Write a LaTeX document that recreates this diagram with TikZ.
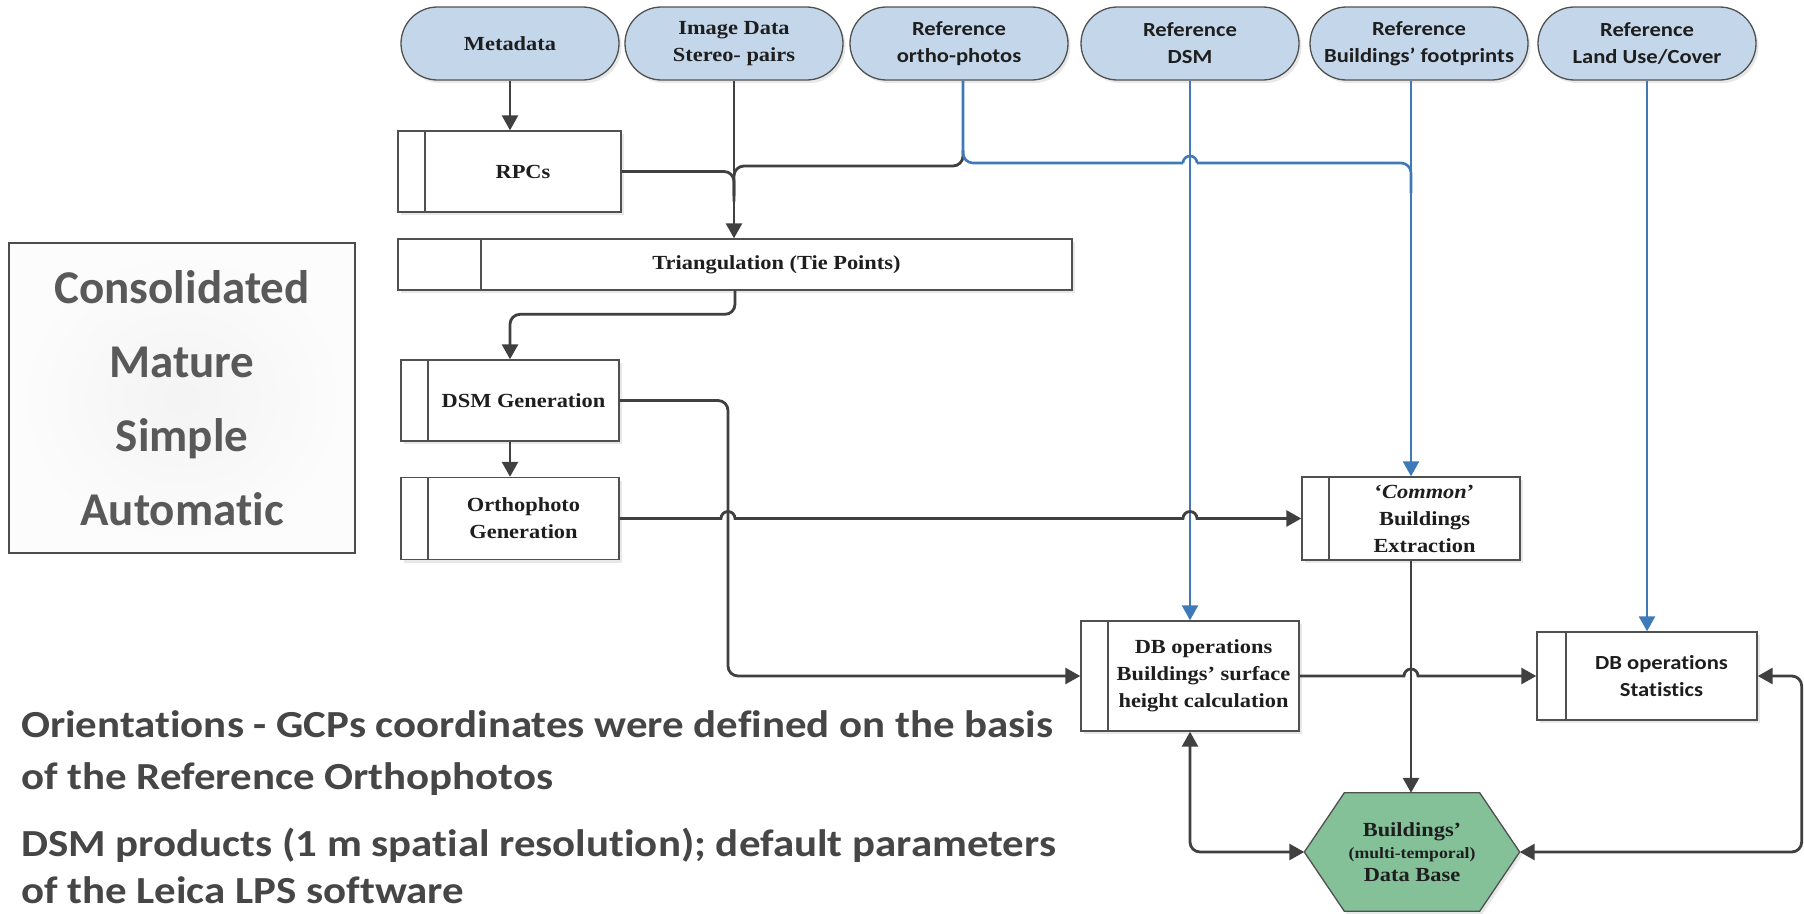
\documentclass[tikz,border=0pt]{standalone}
\usepackage{fontspec}
\usetikzlibrary{arrows.meta,shapes.misc,shadows,backgrounds,calc}
\newfontfamily\tmsb[FakeStretch=1.12]{Liberation Serif}
\newfontfamily\cbri[FakeStretch=1.13,Ligatures=NoCommon]{Carlito}
\newfontfamily\cbrw[FakeStretch=1.12,Ligatures=NoCommon]{Carlito}
\newfontfamily\cbrn[Ligatures=NoCommon]{Carlito}
\definecolor{pillfill}{RGB}{196,215,234}
\definecolor{hexfill}{RGB}{132,192,152}
\definecolor{bluln}{RGB}{62,122,184}
\definecolor{dkln}{RGB}{64,64,64}
\definecolor{boxln}{RGB}{80,80,80}
\definecolor{txtgray}{RGB}{89,89,89}
\definecolor{notetxt}{RGB}{70,70,70}
\definecolor{boxtxt}{RGB}{30,30,30}
\newcommand\lpad{\hspace*{27pt}}
\begin{document}
\begin{tikzpicture}[x=1pt,y=-1pt,
  >={Triangle[length=15pt,width=16pt]},
  shd/.style={drop shadow={shadow xshift=2.5pt,shadow yshift=-3pt,opacity=0.18}},
  pill/.style={rounded rectangle, draw=boxln, line width=1.3pt, fill=pillfill,
    minimum width=218pt, minimum height=73pt, inner sep=0pt, align=center,
    text=boxtxt, shd},
  tpill/.style={pill, font=\tmsb\bfseries\fontsize{20}{27}\selectfont},
  cpill/.style={pill, font=\cbri\bfseries\fontsize{20}{27}\selectfont},
  proc/.style={draw=boxln, line width=1.4pt, fill=white, inner sep=0pt,
    align=center, text=boxtxt, shd,
    font=\tmsb\bfseries\fontsize{20}{27}\selectfont,
    path picture={\draw[boxln, line width=1.4pt]
      ([xshift=#1]path picture bounding box.north west) --
      ([xshift=#1]path picture bounding box.south west);}},
  proc/.default=27pt,
  dk/.style={draw=dkln, line width=2.8pt},
  bl/.style={draw=bluln, line width=2.6pt},
  note/.style={anchor=base west, inner sep=0pt, text=notetxt,
    font=\cbrw\bfseries\fontsize{38.3}{44}\selectfont},
]
\useasboundingbox (0,0) rectangle (1804,913);

% sources
\node[tpill] (meta) at (510,43.5) {Metadata};
\node[tpill] (img) at (734,43.5) {Image Data\\Stereo- pairs};
\node[cpill] (rortho) at (959,43.5) {Reference\\ortho-photos};
\node[cpill] (rdsm) at (1190,43.5) {Reference\\DSM};
\node[cpill] (rbld) at (1419,43.5) {Reference\\Buildings’ footprints};
\node[cpill] (rlu) at (1647,43.5) {Reference\\Land Use/Cover};

% process boxes
\node[proc, minimum width=223pt, minimum height=81pt] (rpc) at (509.5,171.5) {\lpad RPCs};
\node[proc=83pt, minimum width=674pt, minimum height=51pt] (tri) at (735,264.5)
  {\hspace*{83pt}Triangulation (Tie Points)};
\node[proc, minimum width=218pt, minimum height=81pt] (dsmg) at (510,400.5) {\lpad DSM Generation};
\node[proc, minimum width=218pt, minimum height=82pt] (orth) at (510,518.5)
  {\lpad Orthophoto\\\lpad Generation};
\node[proc, minimum width=218pt, minimum height=83pt] (comm) at (1411,518.5)
  {\lpad ‘\textit{Common}’\\\lpad Buildings\\\lpad Extraction};
\node[proc, minimum width=218pt, minimum height=110pt] (dbop) at (1190,676)
  {\lpad DB operations\\\lpad Buildings’ surface\\\lpad height calculation};
\node[proc=29pt, minimum width=220pt, minimum height=88pt,
  font=\cbri\bfseries\fontsize{20}{27}\selectfont] (stat) at (1647,676)
  {\hspace*{29pt}DB operations\\\hspace*{29pt}Statistics};

% database hexagon
\node[align=center, inner sep=0pt, minimum width=215pt, minimum height=118pt,
  text=boxtxt, font=\tmsb\bfseries\fontsize{20}{25}\selectfont] (hex) at (1412,852)
  {Buildings’\\[-3pt]{\fontsize{15.8}{18}\selectfont(multi-temporal)}\\[-2pt]Data Base};
\begin{scope}[on background layer]
  \fill[white] (0,0) rectangle (1804,913);
  \draw[boxln, line width=1.3pt, fill=hexfill, shd]
    (hex.west) -- ([xshift=40pt]hex.north west) -- ([xshift=-40pt]hex.north east)
    -- (hex.east) -- ([xshift=-40pt]hex.south east) -- ([xshift=40pt]hex.south west) -- cycle;
\end{scope}

% left feature box
\node[draw=black!70, line width=1.3pt, inner color=gray!9, outer color=gray!2,
  minimum width=346pt, minimum height=310pt, align=center, text=txtgray,
  font=\cbrn\bfseries\fontsize{47}{74}\selectfont] (feat) at (182,398)
  {Consolidated\\Mature\\Simple\\Automatic};

% notes
\node[note] (n1a) at (21,737) {Orientations - GCPs coordinates were defined on the basis};
\node[note] (n1b) at (21,789) {of the Reference Orthophotos};
\node[note] (n2a) at (21,856) {DSM products (1 m spatial resolution); default parameters};
\node[note] (n2b) at (21,903) {of the Leica LPS software};

% connectors
\coordinate (oj) at ($(rortho.south)+(4,0)$);
\coordinate (dv) at (728,0);
\coordinate (bh) at (0,163);

\draw[dk,->] (meta.south) -- (meta.south |- rpc.north);
\draw[dk,->] (img.south) -- (img.south |- tri.north);
\draw[dk, rounded corners=10pt] (rpc.east) -| ($(img.south |- rpc.east)+(0,30)$);
\draw[dk, rounded corners=10pt] ($(oj)+(0,70)$) |- ($(img.south |- 0,166)$) -- ($(img.south |- 0,196)$);

\draw[bl, rounded corners=10pt] (oj) |- ($(rdsm.south |- bh)+(-7,0)$);
\draw[bl] ($(rdsm.south |- bh)+(-7,0)$) arc[start angle=180,end angle=0,radius=7pt];
\draw[bl, rounded corners=10pt] ($(rdsm.south |- bh)+(7,0)$) -| ($(comm.north |- bh)+(0,30)$);

\draw[bl,->] (comm.north |- rbld.south) -- (comm.north);
\draw[bl,->] (rdsm.south) -- (dbop.north);
\draw[bl,->] (rlu.south) -- (stat.north);

\draw[dk,->, rounded corners=10pt] (tri.south) |- ($(dsmg.north)+(0,-45)$) -- (dsmg.north);
\draw[dk,->] (dsmg.south) -- (orth.north);
\draw[dk,->, rounded corners=10pt] (dsmg.east) -| (dv |- dbop.west) -- (dbop.west);
\draw[dk,->] (orth.east) -- ($(dv |- orth.east)+(-7,0)$)
  arc[start angle=180,end angle=0,radius=7pt]
  -- ($(rdsm.south |- orth.east)+(-7,0)$)
  arc[start angle=180,end angle=0,radius=7pt] -- (comm.west);
\draw[dk,->] (dbop.east) -- ($(comm.south |- dbop.east)+(-7,0)$)
  arc[start angle=180,end angle=0,radius=7pt] -- (stat.west);
\draw[dk,->] (comm.south) -- (comm.south |- hex.north);
\draw[dk,<->, rounded corners=10pt] (dbop.south) |- (hex.west);
\draw[dk,<->, rounded corners=10pt] (hex.east) -| ($(stat.east)+(44,0)$) -- (stat.east);
\end{tikzpicture}
\end{document}
